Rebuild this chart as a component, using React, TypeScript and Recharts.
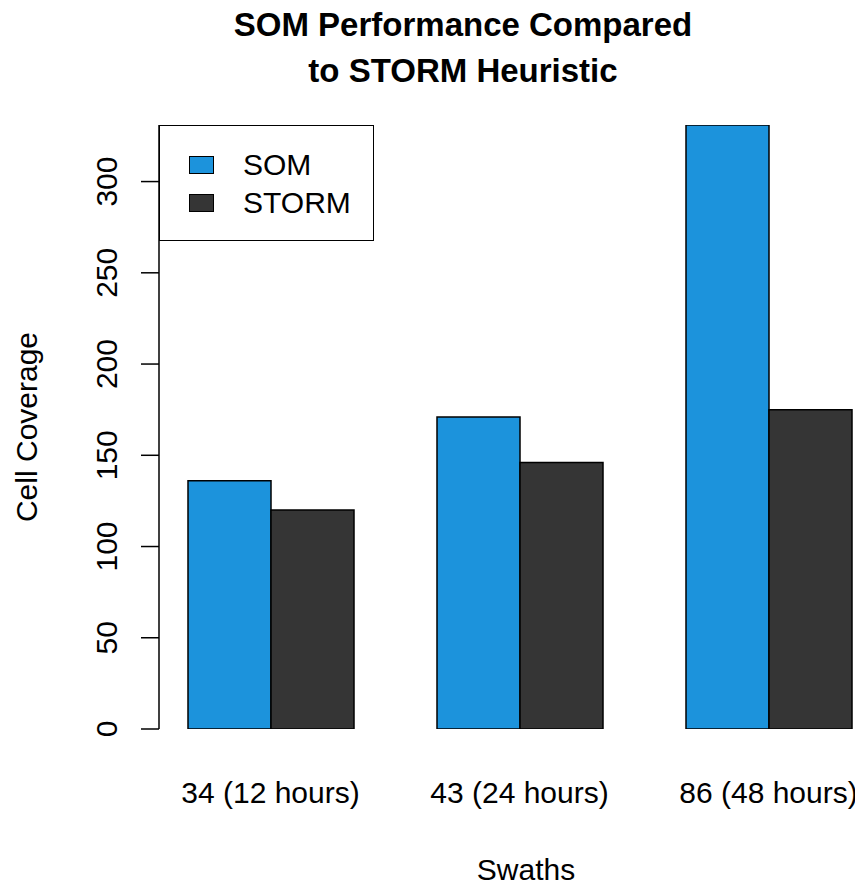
import React from 'react';
import { BarChart, Bar, XAxis, YAxis, Label } from 'recharts';

const swaths = ['34 (12 hours)', '43 (24 hours)', '86 (48 hours)'];
const somValues = [136, 171, 331];
const stormValues = [120, 146, 175];
const yTicks = [0, 50, 100, 150, 200, 250, 300];

const series = [
  { key: 'som', name: 'SOM', color: '#1c93dc' },
  { key: 'storm', name: 'STORM', color: '#353535' }
];

const data = swaths.map((label, i) => ({
  label,
  som: somValues[i],
  storm: stormValues[i]
}));

const FONT = '"Liberation Sans", Arial, sans-serif';

// R-style rotated y tick labels
const RotatedTick = ({ x, y, payload }: any) => (
  <text
    x={x}
    y={y}
    transform={`rotate(-90, ${x}, ${y})`}
    textAnchor="middle"
    fontFamily={FONT}
    fontSize={30}
    fill="#000"
  >
    {payload.value}
  </text>
);

const App: React.FC = () => {
  return (
    <div
      style={{
        position: 'relative',
        width: 863,
        height: 888,
        overflow: 'hidden',
        margin: -8,
        background: '#fff',
        fontFamily: FONT
      }}
    >
      <div
        style={{
          position: 'absolute',
          left: 163,
          top: 2,
          width: 600,
          textAlign: 'center',
          fontSize: 33,
          fontWeight: 'bold',
          lineHeight: '45.7px',
          color: '#000'
        }}
      >
        SOM Performance Compared
        <br />
        to STORM Heuristic
      </div>

      <BarChart
        width={893}
        height={888}
        data={data}
        margin={{ top: 125, right: 0, left: 0, bottom: 0 }}
        barGap={0}
        barSize={83}
      >
        <XAxis
          dataKey="label"
          height={159}
          axisLine={false}
          tickLine={false}
          tickMargin={47}
          padding={{ left: -13, right: 0 }}
          tick={{ fontSize: 30, fill: '#000', fontFamily: FONT }}
          interval={0}
        >
          <Label
            value="Swaths"
            position="insideBottom"
            offset={8}
            style={{ fontSize: 30, fill: '#000', fontFamily: FONT }}
          />
        </XAxis>
        <YAxis
          width={159}
          domain={[0, 331]}
          ticks={yTicks}
          allowDataOverflow
          tickSize={18}
          tickMargin={24}
          axisLine={{ stroke: '#000', strokeWidth: 1.5 }}
          tickLine={{ stroke: '#000', strokeWidth: 1.5 }}
          tick={<RotatedTick />}
        >
          <Label
            value="Cell Coverage"
            angle={-90}
            position="insideLeft"
            offset={26}
            style={{ fontSize: 30, fill: '#000', fontFamily: FONT, textAnchor: 'middle' }}
          />
        </YAxis>
        {series.map(s => (
          <Bar
            key={s.key}
            dataKey={s.key}
            name={s.name}
            fill={s.color}
            stroke="#000"
            strokeWidth={1.5}
            isAnimationActive={false}
          />
        ))}
      </BarChart>

      <div
        style={{
          position: 'absolute',
          left: 159,
          top: 125,
          width: 215,
          height: 116,
          boxSizing: 'border-box',
          border: '1.5px solid #000',
          background: '#fff'
        }}
      >
        {series.map((s, i) => (
          <div
            key={s.key}
            style={{
              position: 'absolute',
              left: 29,
              top: 29 + i * 38,
              display: 'flex',
              alignItems: 'center',
              height: 20
            }}
          >
            <div
              style={{
                width: 25,
                height: 18,
                boxSizing: 'border-box',
                border: '1.5px solid #000',
                background: s.color
              }}
            />
            <span style={{ marginLeft: 29, fontSize: 30, color: '#000', lineHeight: '20px' }}>
              {s.name}
            </span>
          </div>
        ))}
      </div>
    </div>
  );
};

export default App;
